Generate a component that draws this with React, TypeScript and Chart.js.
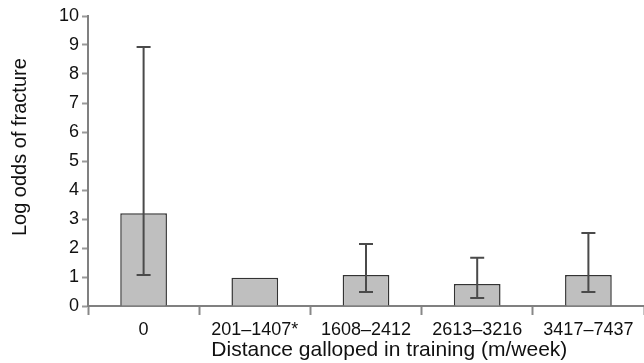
import React, { useEffect, useRef } from "react";
import { Chart, registerables } from "chart.js";

Chart.register(...registerables);

const categories = ["0", "201–1407*", "1608–2412", "2613–3216", "3417–7437"];
const logOdds = [3.2, 0.97, 1.07, 0.76, 1.07];
const ciLow: (number | null)[] = [1.07, null, 0.48, 0.28, 0.48];
const ciHigh: (number | null)[] = [8.93, null, 2.14, 1.66, 2.52];
const yTicks = [0, 1, 2, 3, 4, 5, 6, 7, 8, 9, 10];

const FONT = "'Liberation Sans', Arial, Helvetica, sans-serif";

const errorBarPlugin = {
  id: "errorBars",
  afterDatasetsDraw(chart: any) {
    const meta = chart.getDatasetMeta(0);
    const y = chart.scales.y;
    const ctx = chart.ctx;
    ctx.save();
    ctx.strokeStyle = "#4a4a4a";
    ctx.lineWidth = 2;
    meta.data.forEach((bar: any, i: number) => {
      const lo = ciLow[i];
      const hi = ciHigh[i];
      if (lo == null || hi == null) return;
      const x = bar.x;
      const yl = y.getPixelForValue(lo);
      const yh = y.getPixelForValue(hi);
      const half = 7;
      ctx.beginPath();
      ctx.moveTo(x, yl);
      ctx.lineTo(x, yh);
      ctx.moveTo(x - half, yh);
      ctx.lineTo(x + half, yh);
      ctx.moveTo(x - half, yl);
      ctx.lineTo(x + half, yl);
      ctx.stroke();
    });
    ctx.restore();
  },
};

export default function App() {
  const ref = useRef<HTMLCanvasElement | null>(null);
  useEffect(() => {
    if (!ref.current) return;
    const chart = new Chart(ref.current, {
      type: "bar",
      data: {
        labels: categories,
        datasets: [
          {
            data: logOdds,
            backgroundColor: "#bfbfbf",
            borderColor: "#333333",
            borderWidth: 1.5,
            barPercentage: 0.42,
            categoryPercentage: 1,
          },
        ],
      },
      options: {
        responsive: false,
        animation: false,
        layout: { padding: { left: 8, top: 16, right: 0, bottom: 0 } },
        plugins: {
          legend: { display: false },
          tooltip: { enabled: false },
        },
        scales: {
          x: {
            grid: {
              offset: true,
              drawOnChartArea: false,
              tickLength: 9,
              color: "#888888",
              tickWidth: 2,
            },
            border: { color: "#808080", width: 2 },
            ticks: {
              color: "#111111",
              font: { family: FONT, size: 18 },
              padding: 4,
              maxRotation: 0,
              autoSkip: false,
            },
            title: {
              display: true,
              text: "        Distance galloped in training (m/week)",
              color: "#111111",
              font: { family: FONT, size: 21 },
              padding: { top: 0, bottom: 0 },
            },
            afterFit(scale: any) {
              scale.height = 57;
            },
          },
          y: {
            min: 0,
            max: 10,
            afterBuildTicks(scale: any) {
              scale.ticks = yTicks.map((v) => ({ value: v }));
            },
            grid: {
              drawOnChartArea: false,
              tickLength: 6,
              color: "#999999",
              tickWidth: 2,
            },
            border: { color: "#808080", width: 2 },
            ticks: {
              color: "#111111",
              font: { family: FONT, size: 18 },
              padding: 3,
            },
            title: {
              display: true,
              text: "     Log odds of fracture",
              color: "#111111",
              font: { family: FONT, size: 20 },
              padding: { top: 0, bottom: 0 },
            },
            afterFit(scale: any) {
              scale.width = 80;
            },
          },
        },
      },
      plugins: [errorBarPlugin],
    });
    return () => chart.destroy();
  }, []);
  return (
    <div style={{ position: "absolute", left: 0, top: 0, width: 644, height: 363, background: "#ffffff" }}>
      <canvas ref={ref} width={644} height={363} style={{ display: "block" }} />
    </div>
  );
}
